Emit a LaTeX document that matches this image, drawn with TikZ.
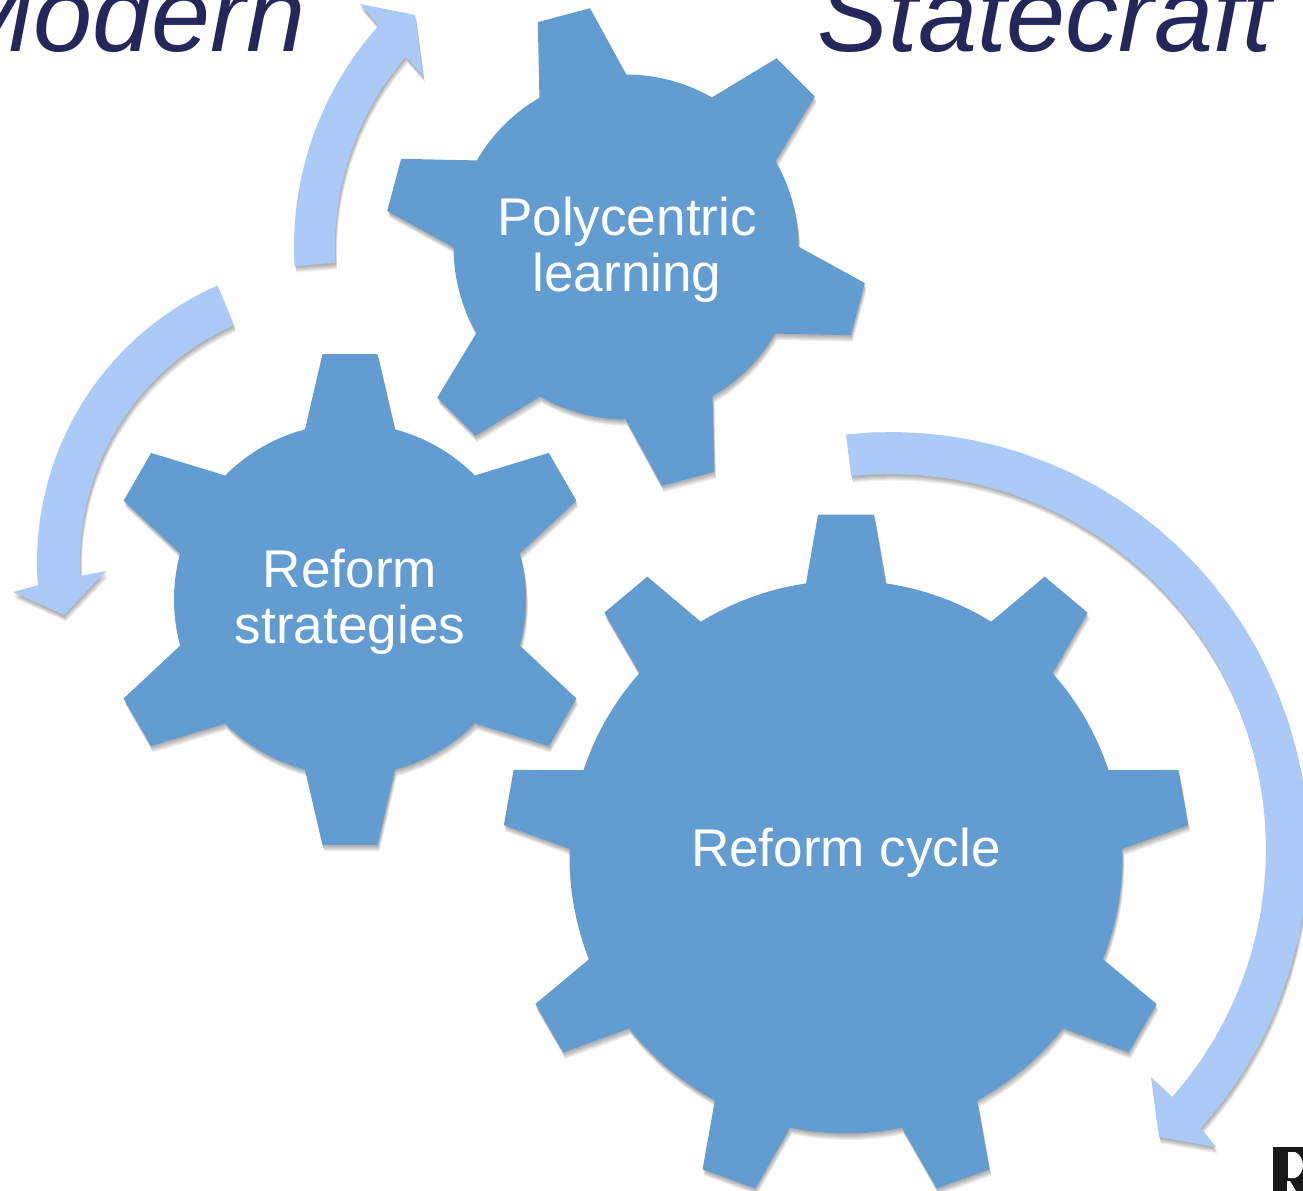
\documentclass[tikz,border=0pt]{standalone}
\usepackage{fontspec}
\setmainfont{Liberation Sans}
\definecolor{gearblue}{HTML}{629CD1}
\definecolor{arrowblue}{HTML}{ABCAF7}
\definecolor{titleblue}{HTML}{25275A}
\newcommand\softshadow[1]{%
  \foreach \s in {1.5,2.5,3.5,4.5,5.5,6.5} {\fill[black,opacity=.06,shift={(0.3*\s,\s)}] #1;}
}
% centre x, centre y, radius, tooth count, clock angle of first tooth, half base, half tip, tip distance
\newcommand\gearpath[8]{%
  \def\cx{#1}\def\cy{#2}\def\rr{#3}\def\st{360/#4}\def\tz{90-#5}%
  \pgfmathsetmacro\db{asin(#6/#3)}%
  \pgfmathsetmacro\dt{atan(#7/#8)}%
  \pgfmathsetmacro\rt{veclen(#7,#8)}%
  \pgfmathsetmacro\nn{int(#4-1)}%
  \softshadow{\gearoutline}%
  \fill[gearblue] \gearoutline;%
}
\newcommand\gearoutline{%
  ({\cx+\rr*cos(\tz+\db)},{\cy-\rr*sin(\tz+\db)})
  \foreach[evaluate=\i as \t using {\tz-\i*\st}] \i in {0,...,\nn} {
    -- ({\cx+\rt*cos(\t+\dt)},{\cy-\rt*sin(\t+\dt)})
    -- ({\cx+\rt*cos(\t-\dt)},{\cy-\rt*sin(\t-\dt)})
    -- ({\cx+\rr*cos(\t-\db)},{\cy-\rr*sin(\t-\db)})
    -- plot[domain=\t-\db:\t-\st+\db,samples=16] ({\cx+\rr*cos(\x)},{\cy-\rr*sin(\x)})
  } -- cycle}
% centre x, centre y, outer R, inner R, tail outer angle, neck outer angle, tail inner angle, neck inner angle, head points
\newcommand\bendarrow[9]{%
  \def\arrowoutline{plot[domain=#5:#6,samples=40] ({#1+#3*cos(\x)},{#2-#3*sin(\x)}) -- #9 -- plot[domain=#8:#7,samples=40] ({#1+#4*cos(\x)},{#2-#4*sin(\x)}) -- cycle}%
  \softshadow{\arrowoutline}%
  \fill[arrowblue] \arrowoutline;%
}
\begin{document}
\begin{tikzpicture}[x=0.01cm,y=-0.01cm,
  geartext/.style={text=white,font=\fontsize{15.1pt}{16pt}\selectfont,align=center,inner sep=0pt},
  titletext/.style={text=titleblue,font=\fontsize{30.2pt}{32pt}\selectfont\itshape,inner sep=0pt}]
\clip (0,0) rectangle (1303,1191);
\node[titletext,anchor=base east] (modern) at (306,52) {Modern};
\node[titletext,anchor=base west] (statecraft) at (817,52) {Statecraft};
\bendarrow{626}{247}{332}{291}{183.3}{138.2}{183.1}{139.2}{(360,4) -- (415,15) -- (423,76)}
\bendarrow{339}{562}{302}{259}{113.7}{184.4}{113.9}{183.1}{(13,592) -- (64,615) -- (106,571)}
\bendarrow{891}{849}{417}{375}{96.2}{-42}{96.1}{-41.4}{(1216,1147) -- (1159,1137) -- (1151,1077)}
\gearpath{846}{857}{276.5}{9}{0}{40}{28}{342.5}
\gearpath{350}{599.5}{176}{6}{0}{45}{27.5}{245.5}
\gearpath{626}{247}{172.5}{6}{-15}{45}{27}{240}
\node[geartext] (poly) at (627,250) {Polycentric\\learning};
\node[geartext] (strat) at (350,602) {Reform\\strategies};
\node[geartext] (cycle) at (846,853) {Reform cycle};
\fill[black!90] (1273,1147) rectangle (1303,1191);
\fill[white] (1288,1152) -- (1295,1152) .. controls (1300,1154) and (1303,1160) .. (1303,1165) .. controls (1303,1171) and (1300,1176) .. (1295,1178) -- (1288,1178) -- cycle;
\fill[white] (1287,1181) -- (1290,1181) -- (1296,1191) -- (1287,1191) -- cycle;
\end{tikzpicture}
\end{document}
